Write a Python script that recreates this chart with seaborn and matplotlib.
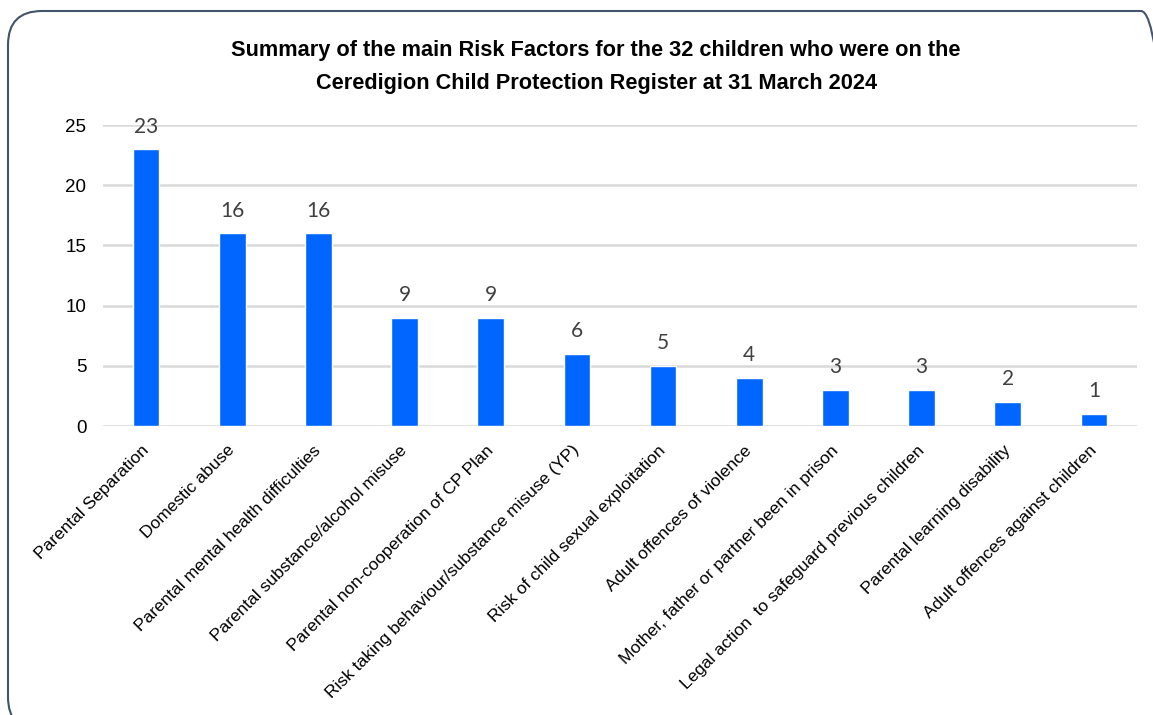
import matplotlib
matplotlib.use("Agg")
import matplotlib.pyplot as plt
from matplotlib.patches import FancyBboxPatch
from matplotlib.transforms import IdentityTransform, ScaledTranslation
import seaborn as sns
import pandas as pd

# Data
factors = [
    "Parental Separation",
    "Domestic abuse",
    "Parental mental health difficulties",
    "Parental substance/alcohol misuse",
    "Parental non-cooperation of CP Plan",
    "Risk taking behaviour/substance misuse (YP)",
    "Risk of child sexual exploitation",
    "Adult offences of violence",
    "Mother, father or partner been in prison",
    "Legal action  to safeguard previous children",
    "Parental learning disability",
    "Adult offences against children",
]
counts = [23, 16, 16, 9, 9, 6, 5, 4, 3, 3, 2, 1]
yticks = [0, 5, 10, 15, 20, 25]

df = pd.DataFrame({"factor": factors, "count": counts})

sns.set_style("white")
plt.rcParams["font.family"] = ["Liberation Sans", "DejaVu Sans"]
plt.rcParams["text.color"] = "black"
plt.rcParams["xtick.color"] = "black"
plt.rcParams["ytick.color"] = "black"

W, H = 1153, 715
fig = plt.figure(figsize=(W / 100, H / 100), dpi=100)
ax = fig.add_axes([103 / W, 1 - 426 / H, 1034 / W, 301 / H])

sns.barplot(data=df, x="factor", y="count", color="#0066FF", saturation=1,
            width=0.31, ax=ax, zorder=3)

ax.set_ylim(0, 25)
ax.set_xlim(-0.5, len(factors) - 0.5)
ax.set_yticks(yticks)
ax.set_yticklabels([str(t) for t in yticks], fontsize=13.5)
ax.grid(axis="y", color="#d9d9d9", linewidth=1.8, zorder=0)
ax.set_axisbelow(True)
for s in ax.spines.values():
    s.set_visible(False)
ax.tick_params(axis="both", length=0)
ax.tick_params(axis="y", pad=12)
ax.tick_params(axis="x", pad=12)
ax.set_xlabel("")
ax.set_ylabel("")
ax.set_xticks(range(len(factors)))
ax.set_xticklabels(factors, rotation=45, ha="right", rotation_mode="anchor",
                   fontsize=12.5)
shift = ScaledTranslation(-5 / 100, 0, fig.dpi_scale_trans)
for lab in ax.get_xticklabels():
    lab.set_transform(lab.get_transform() + shift)

for c in ax.containers:
    ax.bar_label(c, labels=[str(v) for v in counts], padding=9,
                 fontsize=15, color="#404040", family="Lato")

fig.text(0.517, 1 - 67 / H,
         "Summary of the main Risk Factors for the 32 children who were on the\n"
         "Ceredigion Child Protection Register at 31 March 2024",
         ha="center", va="center", fontsize=15.7, fontweight="bold",
         linespacing=1.78, color="black")

# rounded border (pixel coords, origin bottom-left)
border = FancyBboxPatch((8, H - 731), 1175 - 8, 731 - 11,
                        boxstyle="round,pad=0,rounding_size=34",
                        transform=IdentityTransform(), fill=False,
                        edgecolor="#44546a", linewidth=1.5)
fig.patches.append(border)

fig.savefig("out.png", dpi=100)
